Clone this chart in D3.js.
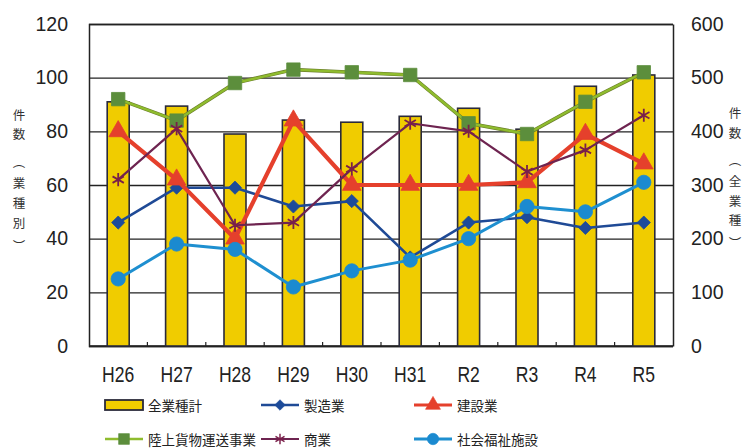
<!DOCTYPE html>
<html>
<head>
<meta charset="utf-8">
<script src="https://cdn.jsdelivr.net/npm/d3@7"></script>
<style>
  html, body { margin: 0; padding: 0; background: #fff; }
  svg { display: block; }
</style>
</head>
<body>
<svg id="chart" width="750" height="448"></svg>
<script>
// Fiscal years on the category axis
const years = ["H26", "H27", "H28", "H29", "H30", "H31", "R2", "R3", "R4", "R5"];

// 全業種計 (right axis)
const totalAll = [455, 447, 395, 421, 417, 428, 443, 404, 484, 505];

// Per-industry counts (left axis)
const seizo   = [46, 59, 59, 52, 54, 33, 46, 48, 44, 46];      // 製造業
const kensetsu = [80, 62, 40, 84, 60, 60, 60, 61, 79, 68];     // 建設業
const rikujo  = [92, 84, 98, 103, 102, 101, 83, 79, 91, 102];  // 陸上貨物運送事業
const shogyo  = [62, 81, 45, 46, 66, 83, 80, 65, 73, 86];      // 商業
const fukushi = [25, 38, 36, 22, 28, 32, 40, 52, 50, 61];      // 社会福祉施設

const leftTicks = [0, 20, 40, 60, 80, 100, 120];
const rightTicks = [0, 100, 200, 300, 400, 500, 600];

const svg = d3.select("#chart");
const L = 89, R = 673, T = 24, B = 346;

const x = d3.scaleBand().domain(years).range([L, R]);
const yL = d3.scaleLinear().domain([0, 120]).range([B, T]);
const yR = d3.scaleLinear().domain([0, 600]).range([B, T]);

const numFont = "'Liberation Sans', Arial, sans-serif";
const cjkFont = "'Noto Sans CJK JP', 'Noto Sans CJK SC', sans-serif";

// Left axis with full-width gridlines
const gL = svg.append("g").attr("transform", `translate(${L},0)`)
  .call(d3.axisLeft(yL).tickValues(leftTicks).tickSize(-(R - L)).tickPadding(21));
gL.select(".domain").attr("stroke", "#222").attr("stroke-width", 1.5);
gL.selectAll(".tick line").attr("stroke", "#222").attr("stroke-width", 1.4);
gL.selectAll(".tick text").attr("font-family", numFont).attr("font-size", 19.5).attr("fill", "#222");

// Right axis
const gR = svg.append("g").attr("transform", `translate(${R},0)`)
  .call(d3.axisRight(yR).tickValues(rightTicks).tickSize(0).tickPadding(18));
gR.select(".domain").attr("stroke", "#222").attr("stroke-width", 1.5);
gR.selectAll(".tick text").attr("font-family", numFont).attr("font-size", 19.5).attr("fill", "#222");

// Bottom axis: small inward ticks at category boundaries
svg.append("line").attr("x1", L).attr("x2", R).attr("y1", B).attr("y2", B)
  .attr("stroke", "#222").attr("stroke-width", 1.6);
svg.selectAll("line.xtick").data(years.slice(1)).join("line").attr("class", "xtick")
  .attr("x1", d => x(d)).attr("x2", d => x(d)).attr("y1", B).attr("y2", B - 4)
  .attr("stroke", "#222").attr("stroke-width", 1.2);

// Category labels (condensed)
svg.selectAll("text.xlab").data(years).join("text").attr("class", "xlab")
  .attr("transform", d => `translate(${x(d) + x.bandwidth() / 2},382) scale(0.78,1)`)
  .attr("text-anchor", "middle")
  .attr("font-family", numFont).attr("font-size", 22.5).attr("fill", "#222")
  .text(d => d);

// Vertical axis titles, one glyph per line
function vtitle(chars, cx, ys) {
  svg.append("g").selectAll("text").data(chars).join("text")
    .attr("x", cx).attr("y", (d, i) => ys[i])
    .attr("text-anchor", "middle").attr("dominant-baseline", "central")
    .attr("font-family", cjkFont).attr("font-size", 12.5).attr("fill", "#333")
    .text(d => d);
}
vtitle(["件", "数", "︵", "業", "種", "別", "︶"], 19, [114, 133, 161, 182, 202, 222, 245]);
vtitle(["件", "数", "︵", "全", "業", "種", "︶"], 735, [112, 132, 159, 180, 200, 219, 242]);

// Bars: 全業種計
const barW = 22;
svg.selectAll("rect.bar").data(years).join("rect").attr("class", "bar")
  .attr("x", d => x(d) + x.bandwidth() / 2 - barW / 2)
  .attr("y", (d, i) => yR(totalAll[i]))
  .attr("width", barW)
  .attr("height", (d, i) => B - yR(totalAll[i]))
  .attr("fill", "#f0cc00").attr("stroke", "#2a2a3a").attr("stroke-width", 1.6);

// Marker shapes
const sym = {
  diamond: d3.symbol().type(d3.symbolDiamond2).size(110),
  triangle: d3.symbol().type(d3.symbolTriangle).size(150),
  square: d3.symbol().type(d3.symbolSquare).size(180),
  circle: d3.symbol().type(d3.symbolCircle).size(160),
  star: d3.symbol().type(d3.symbolAsterisk).size(120)
};

const series = [
  { name: "製造業", values: seizo, line: "#1f4a96", marker: "#1d4b9a", width: 2.6, shape: "diamond" },
  { name: "建設業", values: kensetsu, line: "#e5402c", marker: "#e5402c", width: 4.2, shape: "triangle" },
  { name: "陸上貨物運送事業", values: rikujo, line: "#8fbc2e", marker: "#5c8e3c", width: 2.4, shape: "square", edge: "#6a7d2a" },
  { name: "商業", values: shogyo, line: "#6e2450", marker: "#7a1f4a", width: 2.2, shape: "star" },
  { name: "社会福祉施設", values: fukushi, line: "#1e8fd0", marker: "#1b8ad0", width: 3, shape: "circle" }
];

const cx = d => x(d) + x.bandwidth() / 2;

series.forEach(s => {
  const pts = years.map((d, i) => [cx(d), yL(s.values[i])]);
  const g = svg.append("g");
  if (s.edge) {
    g.append("path").attr("d", d3.line()(pts)).attr("fill", "none")
      .attr("stroke", s.edge).attr("stroke-width", s.width + 1.2);
  }
  g.append("path").attr("d", d3.line()(pts)).attr("fill", "none")
    .attr("stroke", s.line).attr("stroke-width", s.width).attr("stroke-linejoin", "round");
  g.selectAll("path.m").data(pts).join("path").attr("class", "m")
    .attr("transform", p => `translate(${p[0]},${p[1]})`)
    .attr("d", sym[s.shape]())
    .attr("fill", s.shape === "star" ? "none" : s.marker)
    .attr("stroke", s.marker).attr("stroke-width", s.shape === "star" ? 1.8 : 0.8);
});

// Legend
const legend = svg.append("g");
const leg = [
  { kind: "bar", label: "全業種計", x: 105, y: 405 },
  { kind: "line", s: series[0], x: 261, y: 405 },
  { kind: "line", s: series[1], x: 414, y: 405 },
  { kind: "line", s: series[2], x: 105, y: 439 },
  { kind: "line", s: series[3], x: 261, y: 439 },
  { kind: "line", s: series[4], x: 414, y: 439 }
];
leg.forEach(e => {
  const g = legend.append("g").attr("transform", `translate(${e.x},${e.y})`);
  const w = 38;
  if (e.kind === "bar") {
    g.append("rect").attr("x", 0).attr("y", -5).attr("width", w).attr("height", 10)
      .attr("fill", "#f0cc00").attr("stroke", "#2a2a3a").attr("stroke-width", 1.8);
  } else {
    const s = e.s;
    g.append("line").attr("x1", 0).attr("x2", w).attr("y1", 0).attr("y2", 0)
      .attr("stroke", s.line).attr("stroke-width", Math.min(s.width, 3.2));
    g.append("path").attr("transform", `translate(${w / 2},0) scale(0.8)`)
      .attr("d", sym[s.shape]())
      .attr("fill", s.shape === "star" ? "none" : s.marker)
      .attr("stroke", s.marker).attr("stroke-width", s.shape === "star" ? 1.8 : 0.8);
  }
  g.append("text").attr("x", w + 5).attr("y", 0).attr("dominant-baseline", "central")
    .attr("font-family", cjkFont).attr("font-size", 13.5).attr("fill", "#222")
    .text(e.kind === "bar" ? e.label : e.s.name);
});
</script>
</body>
</html>
